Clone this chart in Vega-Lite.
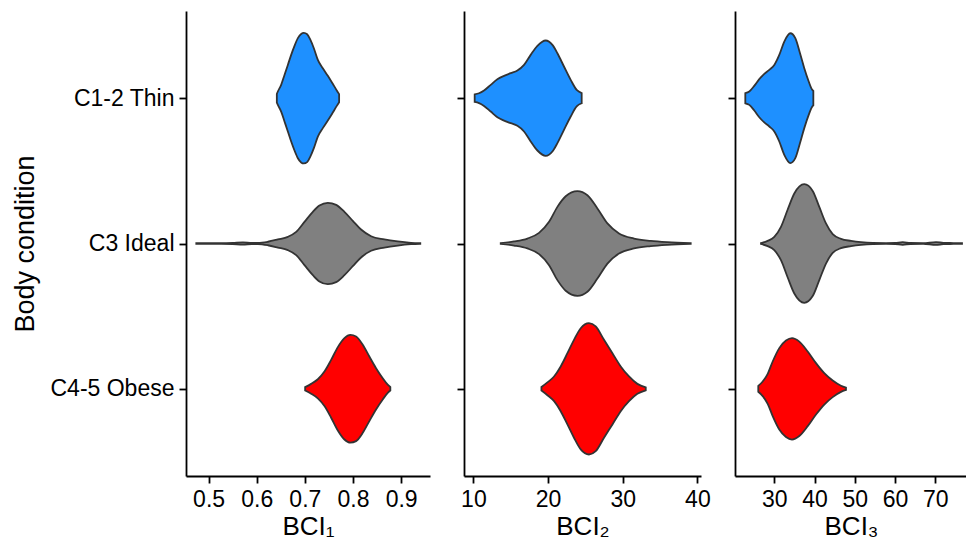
{
  "$schema": "https://vega.github.io/schema/vega-lite/v6.json",
  "padding": {"left": 11, "top": 11, "right": 0, "bottom": 0},
  "background": "white",
  "data": {"values": [
    {"p":1,"c":"C1-2 Thin","x":0.6418,"w":0.030},{"p":1,"c":"C1-2 Thin","x":0.6439,"w":0.046},{"p":1,"c":"C1-2 Thin","x":0.6508,"w":0.092},{"p":1,"c":"C1-2 Thin","x":0.6577,"w":0.160},{"p":1,"c":"C1-2 Thin","x":0.6647,"w":0.229},{"p":1,"c":"C1-2 Thin","x":0.6716,"w":0.298},{"p":1,"c":"C1-2 Thin","x":0.6785,"w":0.360},{"p":1,"c":"C1-2 Thin","x":0.6855,"w":0.413},{"p":1,"c":"C1-2 Thin","x":0.6923,"w":0.442},{"p":1,"c":"C1-2 Thin","x":0.6979,"w":0.449},{"p":1,"c":"C1-2 Thin","x":0.7048,"w":0.440},{"p":1,"c":"C1-2 Thin","x":0.7116,"w":0.401},{"p":1,"c":"C1-2 Thin","x":0.7187,"w":0.344},{"p":1,"c":"C1-2 Thin","x":0.7270,"w":0.264},{"p":1,"c":"C1-2 Thin","x":0.7373,"w":0.206},{"p":1,"c":"C1-2 Thin","x":0.7477,"w":0.154},{"p":1,"c":"C1-2 Thin","x":0.7580,"w":0.099},{"p":1,"c":"C1-2 Thin","x":0.7664,"w":0.053},{"p":1,"c":"C1-2 Thin","x":0.7712,"w":0.028},
    {"p":1,"c":"C3 Ideal","x":0.4745,"w":0.003},{"p":1,"c":"C3 Ideal","x":0.5263,"w":0.002},{"p":1,"c":"C3 Ideal","x":0.5500,"w":0.004},{"p":1,"c":"C3 Ideal","x":0.5714,"w":0.008},{"p":1,"c":"C3 Ideal","x":0.5900,"w":0.004},{"p":1,"c":"C3 Ideal","x":0.6025,"w":0.004},{"p":1,"c":"C3 Ideal","x":0.6232,"w":0.012},{"p":1,"c":"C3 Ideal","x":0.6440,"w":0.028},{"p":1,"c":"C3 Ideal","x":0.6647,"w":0.046},{"p":1,"c":"C3 Ideal","x":0.6820,"w":0.080},{"p":1,"c":"C3 Ideal","x":0.6992,"w":0.149},{"p":1,"c":"C3 Ideal","x":0.7166,"w":0.218},{"p":1,"c":"C3 Ideal","x":0.7303,"w":0.261},{"p":1,"c":"C3 Ideal","x":0.7477,"w":0.280},{"p":1,"c":"C3 Ideal","x":0.7650,"w":0.266},{"p":1,"c":"C3 Ideal","x":0.7822,"w":0.218},{"p":1,"c":"C3 Ideal","x":0.7996,"w":0.156},{"p":1,"c":"C3 Ideal","x":0.8168,"w":0.096},{"p":1,"c":"C3 Ideal","x":0.8376,"w":0.050},{"p":1,"c":"C3 Ideal","x":0.8651,"w":0.028},{"p":1,"c":"C3 Ideal","x":0.8930,"w":0.014},{"p":1,"c":"C3 Ideal","x":0.9205,"w":0.005},{"p":1,"c":"C3 Ideal","x":0.9398,"w":0.002},
    {"p":1,"c":"C4-5 Obese","x":0.7006,"w":0.012},{"p":1,"c":"C4-5 Obese","x":0.7131,"w":0.034},{"p":1,"c":"C4-5 Obese","x":0.7270,"w":0.066},{"p":1,"c":"C4-5 Obese","x":0.7407,"w":0.119},{"p":1,"c":"C4-5 Obese","x":0.7546,"w":0.199},{"p":1,"c":"C4-5 Obese","x":0.7685,"w":0.287},{"p":1,"c":"C4-5 Obese","x":0.7822,"w":0.349},{"p":1,"c":"C4-5 Obese","x":0.7946,"w":0.371},{"p":1,"c":"C4-5 Obese","x":0.8064,"w":0.360},{"p":1,"c":"C4-5 Obese","x":0.8203,"w":0.303},{"p":1,"c":"C4-5 Obese","x":0.8340,"w":0.222},{"p":1,"c":"C4-5 Obese","x":0.8479,"w":0.142},{"p":1,"c":"C4-5 Obese","x":0.8618,"w":0.073},{"p":1,"c":"C4-5 Obese","x":0.8722,"w":0.028},{"p":1,"c":"C4-5 Obese","x":0.8776,"w":0.012},
    {"p":2,"c":"C1-2 Thin","x":10.17,"w":0.026},{"p":2,"c":"C1-2 Thin","x":10.75,"w":0.034},{"p":2,"c":"C1-2 Thin","x":11.42,"w":0.053},{"p":2,"c":"C1-2 Thin","x":12.32,"w":0.092},{"p":2,"c":"C1-2 Thin","x":13.21,"w":0.131},{"p":2,"c":"C1-2 Thin","x":14.10,"w":0.154},{"p":2,"c":"C1-2 Thin","x":15.00,"w":0.172},{"p":2,"c":"C1-2 Thin","x":15.89,"w":0.190},{"p":2,"c":"C1-2 Thin","x":16.78,"w":0.229},{"p":2,"c":"C1-2 Thin","x":17.67,"w":0.298},{"p":2,"c":"C1-2 Thin","x":18.57,"w":0.360},{"p":2,"c":"C1-2 Thin","x":19.68,"w":0.397},{"p":2,"c":"C1-2 Thin","x":20.58,"w":0.367},{"p":2,"c":"C1-2 Thin","x":21.25,"w":0.309},{"p":2,"c":"C1-2 Thin","x":22.13,"w":0.218},{"p":2,"c":"C1-2 Thin","x":23.03,"w":0.126},{"p":2,"c":"C1-2 Thin","x":23.83,"w":0.057},{"p":2,"c":"C1-2 Thin","x":24.50,"w":0.035},
    {"p":2,"c":"C3 Ideal","x":13.66,"w":0.003},{"p":2,"c":"C3 Ideal","x":15.44,"w":0.014},{"p":2,"c":"C3 Ideal","x":17.23,"w":0.034},{"p":2,"c":"C3 Ideal","x":18.79,"w":0.073},{"p":2,"c":"C3 Ideal","x":20.13,"w":0.149},{"p":2,"c":"C3 Ideal","x":21.25,"w":0.252},{"p":2,"c":"C3 Ideal","x":22.36,"w":0.325},{"p":2,"c":"C3 Ideal","x":23.93,"w":0.360},{"p":2,"c":"C3 Ideal","x":25.27,"w":0.332},{"p":2,"c":"C3 Ideal","x":26.61,"w":0.241},{"p":2,"c":"C3 Ideal","x":27.95,"w":0.138},{"p":2,"c":"C3 Ideal","x":29.50,"w":0.069},{"p":2,"c":"C3 Ideal","x":31.51,"w":0.034},{"p":2,"c":"C3 Ideal","x":33.75,"w":0.018},{"p":2,"c":"C3 Ideal","x":35.98,"w":0.009},{"p":2,"c":"C3 Ideal","x":39.10,"w":0.002},
    {"p":2,"c":"C4-5 Obese","x":19.11,"w":0.012},{"p":2,"c":"C4-5 Obese","x":19.91,"w":0.044},{"p":2,"c":"C4-5 Obese","x":20.80,"w":0.085},{"p":2,"c":"C4-5 Obese","x":21.69,"w":0.154},{"p":2,"c":"C4-5 Obese","x":22.59,"w":0.245},{"p":2,"c":"C4-5 Obese","x":23.47,"w":0.337},{"p":2,"c":"C4-5 Obese","x":24.37,"w":0.417},{"p":2,"c":"C4-5 Obese","x":25.48,"w":0.452},{"p":2,"c":"C4-5 Obese","x":26.38,"w":0.429},{"p":2,"c":"C4-5 Obese","x":27.49,"w":0.337},{"p":2,"c":"C4-5 Obese","x":28.62,"w":0.245},{"p":2,"c":"C4-5 Obese","x":29.73,"w":0.154},{"p":2,"c":"C4-5 Obese","x":30.84,"w":0.085},{"p":2,"c":"C4-5 Obese","x":31.96,"w":0.034},{"p":2,"c":"C4-5 Obese","x":33.08,"w":0.010},
    {"p":3,"c":"C1-2 Thin","x":22.80,"w":0.035},{"p":3,"c":"C1-2 Thin","x":23.79,"w":0.046},{"p":3,"c":"C1-2 Thin","x":25.03,"w":0.085},{"p":3,"c":"C1-2 Thin","x":26.27,"w":0.131},{"p":3,"c":"C1-2 Thin","x":27.52,"w":0.167},{"p":3,"c":"C1-2 Thin","x":28.76,"w":0.195},{"p":3,"c":"C1-2 Thin","x":30.00,"w":0.229},{"p":3,"c":"C1-2 Thin","x":31.24,"w":0.298},{"p":3,"c":"C1-2 Thin","x":32.48,"w":0.390},{"p":3,"c":"C1-2 Thin","x":33.98,"w":0.447},{"p":3,"c":"C1-2 Thin","x":35.22,"w":0.413},{"p":3,"c":"C1-2 Thin","x":36.39,"w":0.309},{"p":3,"c":"C1-2 Thin","x":37.45,"w":0.206},{"p":3,"c":"C1-2 Thin","x":38.55,"w":0.115},{"p":3,"c":"C1-2 Thin","x":39.37,"w":0.060},{"p":3,"c":"C1-2 Thin","x":39.70,"w":0.050},
    {"p":3,"c":"C3 Ideal","x":26.70,"w":0.003},{"p":3,"c":"C3 Ideal","x":28.36,"w":0.018},{"p":3,"c":"C3 Ideal","x":30.00,"w":0.046},{"p":3,"c":"C3 Ideal","x":31.66,"w":0.115},{"p":3,"c":"C3 Ideal","x":33.33,"w":0.234},{"p":3,"c":"C3 Ideal","x":34.97,"w":0.344},{"p":3,"c":"C3 Ideal","x":37.45,"w":0.408},{"p":3,"c":"C3 Ideal","x":39.54,"w":0.362},{"p":3,"c":"C3 Ideal","x":41.18,"w":0.252},{"p":3,"c":"C3 Ideal","x":42.84,"w":0.138},{"p":3,"c":"C3 Ideal","x":44.51,"w":0.064},{"p":3,"c":"C3 Ideal","x":46.57,"w":0.032},{"p":3,"c":"C3 Ideal","x":49.06,"w":0.018},{"p":3,"c":"C3 Ideal","x":51.54,"w":0.009},{"p":3,"c":"C3 Ideal","x":54.45,"w":0.004},{"p":3,"c":"C3 Ideal","x":57.75,"w":0.003},{"p":3,"c":"C3 Ideal","x":60.00,"w":0.004},{"p":3,"c":"C3 Ideal","x":61.90,"w":0.009},{"p":3,"c":"C3 Ideal","x":63.80,"w":0.004},{"p":3,"c":"C3 Ideal","x":67.00,"w":0.003},{"p":3,"c":"C3 Ideal","x":70.17,"w":0.010},{"p":3,"c":"C3 Ideal","x":72.00,"w":0.004},{"p":3,"c":"C3 Ideal","x":74.50,"w":0.003},{"p":3,"c":"C3 Ideal","x":76.63,"w":0.002},
    {"p":3,"c":"C4-5 Obese","x":26.02,"w":0.020},{"p":3,"c":"C4-5 Obese","x":27.12,"w":0.050},{"p":3,"c":"C4-5 Obese","x":28.36,"w":0.103},{"p":3,"c":"C4-5 Obese","x":29.60,"w":0.188},{"p":3,"c":"C4-5 Obese","x":31.24,"w":0.280},{"p":3,"c":"C4-5 Obese","x":32.91,"w":0.332},{"p":3,"c":"C4-5 Obese","x":34.40,"w":0.349},{"p":3,"c":"C4-5 Obese","x":36.21,"w":0.325},{"p":3,"c":"C4-5 Obese","x":38.30,"w":0.257},{"p":3,"c":"C4-5 Obese","x":40.36,"w":0.177},{"p":3,"c":"C4-5 Obese","x":42.42,"w":0.108},{"p":3,"c":"C4-5 Obese","x":44.51,"w":0.057},{"p":3,"c":"C4-5 Obese","x":46.57,"w":0.021},{"p":3,"c":"C4-5 Obese","x":47.81,"w":0.008}
  ]},
  "transform": [
    {"calculate": "datum.c === 'C1-2 Thin' ? 3 : (datum.c === 'C3 Ideal' ? 2 : 1)", "as": "pos"},
    {"calculate": "datum.pos - datum.w", "as": "lo"},
    {"calculate": "datum.pos + datum.w", "as": "hi"}
  ],
  "spacing": 34,
  "bounds": "flush",
  "hconcat": [
    {
      "width": 244, "height": 465,
      "transform": [{"filter": "datum.p == 1"}],
      "mark": {"type": "area", "orient": "vertical", "interpolate": "monotone", "stroke": "#333333", "strokeWidth": 1.8, "fillOpacity": 1},
      "encoding": {
        "x": {"field": "x", "type": "quantitative", "scale": {"domain": [0.4531, 0.96], "nice": false, "zero": false},
              "axis": {"values": [0.5, 0.6, 0.7, 0.8, 0.9], "format": ".1f", "title": "BCI₁"}},
        "y": {"field": "lo", "type": "quantitative", "scale": {"domain": [0.4, 3.6], "nice": false, "zero": false},
              "axis": {"values": [1, 2, 3], "title": "Body condition", "titleFontSize": 27, "labelExpr": "datum.value == 3 ? 'C1-2 Thin' : (datum.value == 2 ? 'C3 Ideal' : 'C4-5 Obese')", "labelPadding": 5, "titlePadding": 10}},
        "y2": {"field": "hi"},
        "color": {"field": "c", "type": "nominal", "scale": {"domain": ["C1-2 Thin", "C3 Ideal", "C4-5 Obese"], "range": ["#1E90FF", "#808080", "#FF0000"]}, "legend": null}
      }
    },
    {
      "width": 237, "height": 465,
      "transform": [{"filter": "datum.p == 2"}],
      "mark": {"type": "area", "orient": "vertical", "interpolate": "monotone", "stroke": "#333333", "strokeWidth": 1.8, "fillOpacity": 1},
      "encoding": {
        "x": {"field": "x", "type": "quantitative", "scale": {"domain": [8.74, 40.48], "nice": false, "zero": false},
              "axis": {"values": [10, 20, 30, 40], "title": "BCI₂"}},
        "y": {"field": "lo", "type": "quantitative", "scale": {"domain": [0.4, 3.6], "nice": false, "zero": false},
              "axis": {"values": [1, 2, 3], "title": null, "labels": false}},
        "y2": {"field": "hi"},
        "color": {"field": "c", "type": "nominal", "scale": {"domain": ["C1-2 Thin", "C3 Ideal", "C4-5 Obese"], "range": ["#1E90FF", "#808080", "#FF0000"]}, "legend": null}
      }
    },
    {
      "width": 232, "height": 465,
      "transform": [{"filter": "datum.p == 3"}],
      "mark": {"type": "area", "orient": "vertical", "interpolate": "monotone", "stroke": "#333333", "strokeWidth": 1.8, "fillOpacity": 1},
      "encoding": {
        "x": {"field": "x", "type": "quantitative", "scale": {"domain": [20.24, 77.87], "nice": false, "zero": false},
              "axis": {"values": [30, 40, 50, 60, 70], "title": "BCI₃"}},
        "y": {"field": "lo", "type": "quantitative", "scale": {"domain": [0.4, 3.6], "nice": false, "zero": false},
              "axis": {"values": [1, 2, 3], "title": null, "labels": false}},
        "y2": {"field": "hi"},
        "color": {"field": "c", "type": "nominal", "scale": {"domain": ["C1-2 Thin", "C3 Ideal", "C4-5 Obese"], "range": ["#1E90FF", "#808080", "#FF0000"]}, "legend": null}
      }
    }
  ],
  "resolve": {"scale": {"x": "independent", "y": "independent"}},
  "config": {
    "view": {"stroke": null},
    "font": "Liberation Sans",
    "axis": {
      "grid": false,
      "domainColor": "#000000", "domainWidth": 1.8,
      "tickColor": "#000000", "tickWidth": 1.8, "tickSize": 7,
      "labelColor": "#000000", "titleColor": "#000000",
      "labelFont": "Liberation Sans", "titleFont": "Liberation Sans",
      "labelFontSize": 23, "titleFontSize": 26, "titleFontWeight": "normal",
      "labelFlush": false, "labelOverlap": false
    },
    "axisX": {"labelPadding": 5, "titlePadding": 2}
  }
}
